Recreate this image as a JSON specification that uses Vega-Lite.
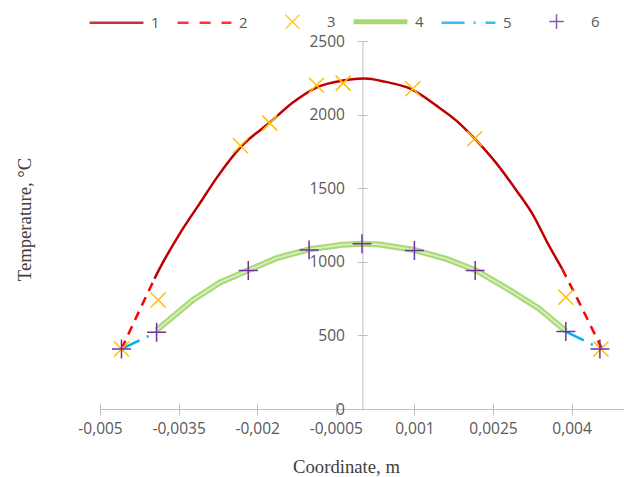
{
  "$schema": "https://vega.github.io/schema/vega-lite/v6.json",
  "width": 524,
  "height": 368,
  "autosize": "none",
  "padding": {"left": 100, "top": 41, "right": 0, "bottom": 68},
  "config": {
    "locale": {"number": {"decimal": ",", "thousands": "", "grouping": [3], "currency": ["", ""], "minus": "-"}},
    "view": {"stroke": null},
    "font": "Open Sans"
  },
  "data": {"values": [
    {"s": "1", "g": "a", "x": -0.00396, "y": 885},
    {"s": "1", "g": "a", "x": -0.00386, "y": 955},
    {"s": "1", "g": "a", "x": -0.00348, "y": 1190},
    {"s": "1", "g": "a", "x": -0.00309, "y": 1400},
    {"s": "1", "g": "a", "x": -0.00277, "y": 1572},
    {"s": "1", "g": "a", "x": -0.00229, "y": 1789},
    {"s": "1", "g": "a", "x": -0.00176, "y": 1946},
    {"s": "1", "g": "a", "x": -0.00132, "y": 2082},
    {"s": "1", "g": "a", "x": -0.00087, "y": 2184},
    {"s": "1", "g": "a", "x": -0.00037, "y": 2231},
    {"s": "1", "g": "a", "x": -0.00008, "y": 2243},
    {"s": "1", "g": "a", "x": 0.00005, "y": 2245},
    {"s": "1", "g": "a", "x": 0.00043, "y": 2224},
    {"s": "1", "g": "a", "x": 0.00096, "y": 2170},
    {"s": "1", "g": "a", "x": 0.00142, "y": 2061},
    {"s": "1", "g": "a", "x": 0.0018, "y": 1959},
    {"s": "1", "g": "a", "x": 0.00215, "y": 1837},
    {"s": "1", "g": "a", "x": 0.00257, "y": 1667},
    {"s": "1", "g": "a", "x": 0.00295, "y": 1483},
    {"s": "1", "g": "a", "x": 0.00325, "y": 1327},
    {"s": "1", "g": "a", "x": 0.00354, "y": 1129},
    {"s": "1", "g": "a", "x": 0.00382, "y": 952},
    {"s": "2", "g": "a", "x": -0.00459, "y": 408},
    {"s": "2", "g": "a", "x": -0.00426, "y": 660},
    {"s": "2", "g": "a", "x": -0.00396, "y": 885},
    {"s": "2", "g": "b", "x": 0.00382, "y": 952},
    {"s": "2", "g": "b", "x": 0.0042, "y": 685},
    {"s": "2", "g": "b", "x": 0.00458, "y": 408},
    {"s": "3", "g": "a", "x": -0.00459, "y": 408},
    {"s": "3", "g": "a", "x": -0.00389, "y": 741},
    {"s": "3", "g": "a", "x": -0.00232, "y": 1789},
    {"s": "3", "g": "a", "x": -0.00176, "y": 1942},
    {"s": "3", "g": "a", "x": -0.00087, "y": 2199},
    {"s": "3", "g": "a", "x": -0.00036, "y": 2214},
    {"s": "3", "g": "a", "x": 0.00097, "y": 2176},
    {"s": "3", "g": "a", "x": 0.00215, "y": 1836},
    {"s": "3", "g": "a", "x": 0.00389, "y": 759},
    {"s": "3", "g": "a", "x": 0.00456, "y": 408},
    {"s": "4", "g": "a", "x": -0.00392, "y": 535},
    {"s": "4", "g": "a", "x": -0.00323, "y": 740},
    {"s": "4", "g": "a", "x": -0.00271, "y": 860},
    {"s": "4", "g": "a", "x": -0.00218, "y": 941},
    {"s": "4", "g": "a", "x": -0.00163, "y": 1025},
    {"s": "4", "g": "a", "x": -0.001, "y": 1085},
    {"s": "4", "g": "a", "x": -0.00037, "y": 1116},
    {"s": "4", "g": "a", "x": 0, "y": 1122},
    {"s": "4", "g": "a", "x": 0.00034, "y": 1118},
    {"s": "4", "g": "a", "x": 0.001, "y": 1080},
    {"s": "4", "g": "a", "x": 0.00161, "y": 1020},
    {"s": "4", "g": "a", "x": 0.00218, "y": 941},
    {"s": "4", "g": "a", "x": 0.00281, "y": 810},
    {"s": "4", "g": "a", "x": 0.00338, "y": 682},
    {"s": "4", "g": "a", "x": 0.00389, "y": 530},
    {"s": "5", "g": "a", "x": -0.00459, "y": 408},
    {"s": "5", "g": "a", "x": -0.00392, "y": 521},
    {"s": "5", "g": "b", "x": 0.00389, "y": 526},
    {"s": "5", "g": "b", "x": 0.00456, "y": 408},
    {"s": "6", "g": "a", "x": -0.00459, "y": 408},
    {"s": "6", "g": "a", "x": -0.00392, "y": 521},
    {"s": "6", "g": "a", "x": -0.00217, "y": 941},
    {"s": "6", "g": "a", "x": -0.00101, "y": 1081},
    {"s": "6", "g": "a", "x": 0, "y": 1122},
    {"s": "6", "g": "a", "x": 0.001, "y": 1077},
    {"s": "6", "g": "a", "x": 0.00216, "y": 941},
    {"s": "6", "g": "a", "x": 0.00389, "y": 526},
    {"s": "6", "g": "a", "x": 0.00454, "y": 408}
  ]},
  "layer": [
    {
      "transform": [{"filter": "datum.s == '4'"}],
      "mark": {"type": "line", "strokeWidth": 6, "opacity": 0.8},
      "encoding": {
        "x": {"field": "x", "type": "quantitative",
          "scale": {"domain": [-0.005, 0.005], "nice": false, "zero": false},
          "axis": {"orient": "bottom", "values": [-0.005, -0.0035, -0.002, -0.0005, 0.001, 0.0025, 0.004], "format": ".2~g",
            "grid": false, "domainColor": "#BFBFBF", "tickColor": "#BFBFBF", "tickSize": 6,
            "labelFontSize": 15.5, "labelColor": "#595959", "labelPadding": 6, "labelFlush": false, "labelOverlap": false,
            "title": "Coordinate, m", "titleFont": "Liberation Serif", "titleFontSize": 18.7, "titleFontWeight": "normal",
            "titleColor": "#404040", "titleX": 246, "titleY": 57, "titleBaseline": "middle", "titleAlign": "center"}},
        "y": {"field": "y", "type": "quantitative",
          "scale": {"domain": [0, 2500], "nice": false},
          "axis": {"orient": "left", "offset": -262.4, "values": [0, 500, 1000, 1500, 2000, 2500], "format": "d",
            "grid": false, "domainColor": "#BFBFBF", "tickColor": "#BFBFBF", "tickSize": 5,
            "labelFontSize": 15.5, "labelColor": "#595959", "labelPadding": 13, "labelFlush": false, "labelOverlap": false,
            "title": "Temperature, °C", "titleFont": "Liberation Serif", "titleFontSize": 18.7, "titleFontWeight": "normal",
            "titleColor": "#404040", "titleAngle": -90, "titleX": -338, "titleY": 178, "titleBaseline": "middle", "titleAlign": "center"}},
        "color": {"field": "s", "type": "nominal",
          "scale": {"domain": ["1", "2", "3", "4", "5", "6"], "range": ["#C00000", "#FF0000", "#FFC000", "#92D050", "#00B0F0", "#7030A0"]},
          "legend": {"orient": "none", "legendX": -12, "legendY": -48, "direction": "horizontal", "columns": 6, "title": null,
            "symbolType": "stroke", "symbolSize": 2900, "symbolStrokeWidth": 2.5, "gridAlign": "all",
            "labelFontSize": 15, "labelColor": "#595959", "labelOffset": 6, "columnPadding": 7,
            "encoding": {"symbols": {
              "shape": {"value": {"expr": "(datum.value == '3' ? 'M-1,0M-0.26,-0.26L0.26,0.26M-0.26,0.26L0.26,-0.26M1,0' : datum.value == '6' ? 'M-1,0M-0.27,0L0.27,0M0,-0.27L0,0.27M1,0' : 'stroke')"}},
              "strokeDash": {"value": {"expr": "(datum.value == '2' ? [11, 11] : datum.value == '5' ? [23, 9, 2, 10] : [])"}},
              "strokeWidth": {"value": {"expr": "(datum.value == '4' ? 5 : (datum.value == '3' || datum.value == '6') ? 1.5 : 2.5)"}}
            }}}
        }
      }
    },
    {
      "transform": [{"filter": "datum.s == '4'"}],
      "mark": {"type": "line", "strokeWidth": 2, "color": "#D6EDC0"},
      "encoding": {
        "x": {"field": "x", "type": "quantitative",
          "axis": {"orient": "top", "offset": -368, "values": [-0.005, -0.0035, -0.002, -0.0005, 0.001, 0.0025, 0.004],
            "labels": false, "domain": false, "grid": false, "tickSize": 6, "tickColor": "#BFBFBF", "title": null}},
        "y": {"field": "y", "type": "quantitative",
          "axis": {"orient": "right", "offset": -261.6, "values": [0, 500, 1000, 1500, 2000, 2500],
            "labels": false, "domain": false, "grid": false, "tickSize": 5, "tickColor": "#BFBFBF", "title": null}}
      }
    },
    {
      "transform": [{"filter": "datum.s == '5'"}],
      "mark": {"type": "line", "strokeWidth": 2.5, "strokeDash": [20, 8, 2, 8]},
      "encoding": {
        "x": {"field": "x", "type": "quantitative", "axis": null},
        "y": {"field": "y", "type": "quantitative", "axis": null},
        "detail": {"field": "g"},
        "color": {"field": "s", "type": "nominal"}
      }
    },
    {
      "transform": [{"filter": "datum.s == '1'"}],
      "mark": {"type": "line", "strokeWidth": 2.5, "interpolate": "monotone"},
      "encoding": {
        "x": {"field": "x", "type": "quantitative", "axis": null},
        "y": {"field": "y", "type": "quantitative", "axis": null},
        "color": {"field": "s", "type": "nominal"}
      }
    },
    {
      "transform": [{"filter": "datum.s == '2'"}],
      "mark": {"type": "line", "strokeWidth": 2.5, "strokeDash": [9, 7]},
      "encoding": {
        "x": {"field": "x", "type": "quantitative", "axis": null},
        "y": {"field": "y", "type": "quantitative", "axis": null},
        "detail": {"field": "g"},
        "color": {"field": "s", "type": "nominal"}
      }
    },
    {
      "transform": [{"filter": "datum.s == '3'"}],
      "mark": {"type": "point", "shape": "M-1,-1L1,1M-1,1L1,-1", "filled": false, "size": 225, "strokeWidth": 1.5, "opacity": 1},
      "encoding": {
        "x": {"field": "x", "type": "quantitative", "axis": null},
        "y": {"field": "y", "type": "quantitative", "axis": null},
        "color": {"field": "s", "type": "nominal"}
      }
    },
    {
      "transform": [{"filter": "datum.s == '6'"}],
      "mark": {"type": "point", "shape": "M-1,0L1,0M0,-1L0,1", "filled": false, "size": 360, "strokeWidth": 1.5, "opacity": 1},
      "encoding": {
        "x": {"field": "x", "type": "quantitative", "axis": null},
        "y": {"field": "y", "type": "quantitative", "axis": null},
        "color": {"field": "s", "type": "nominal"}
      }
    }
  ],
  "resolve": {"axis": {"x": "independent", "y": "independent"}}
}
